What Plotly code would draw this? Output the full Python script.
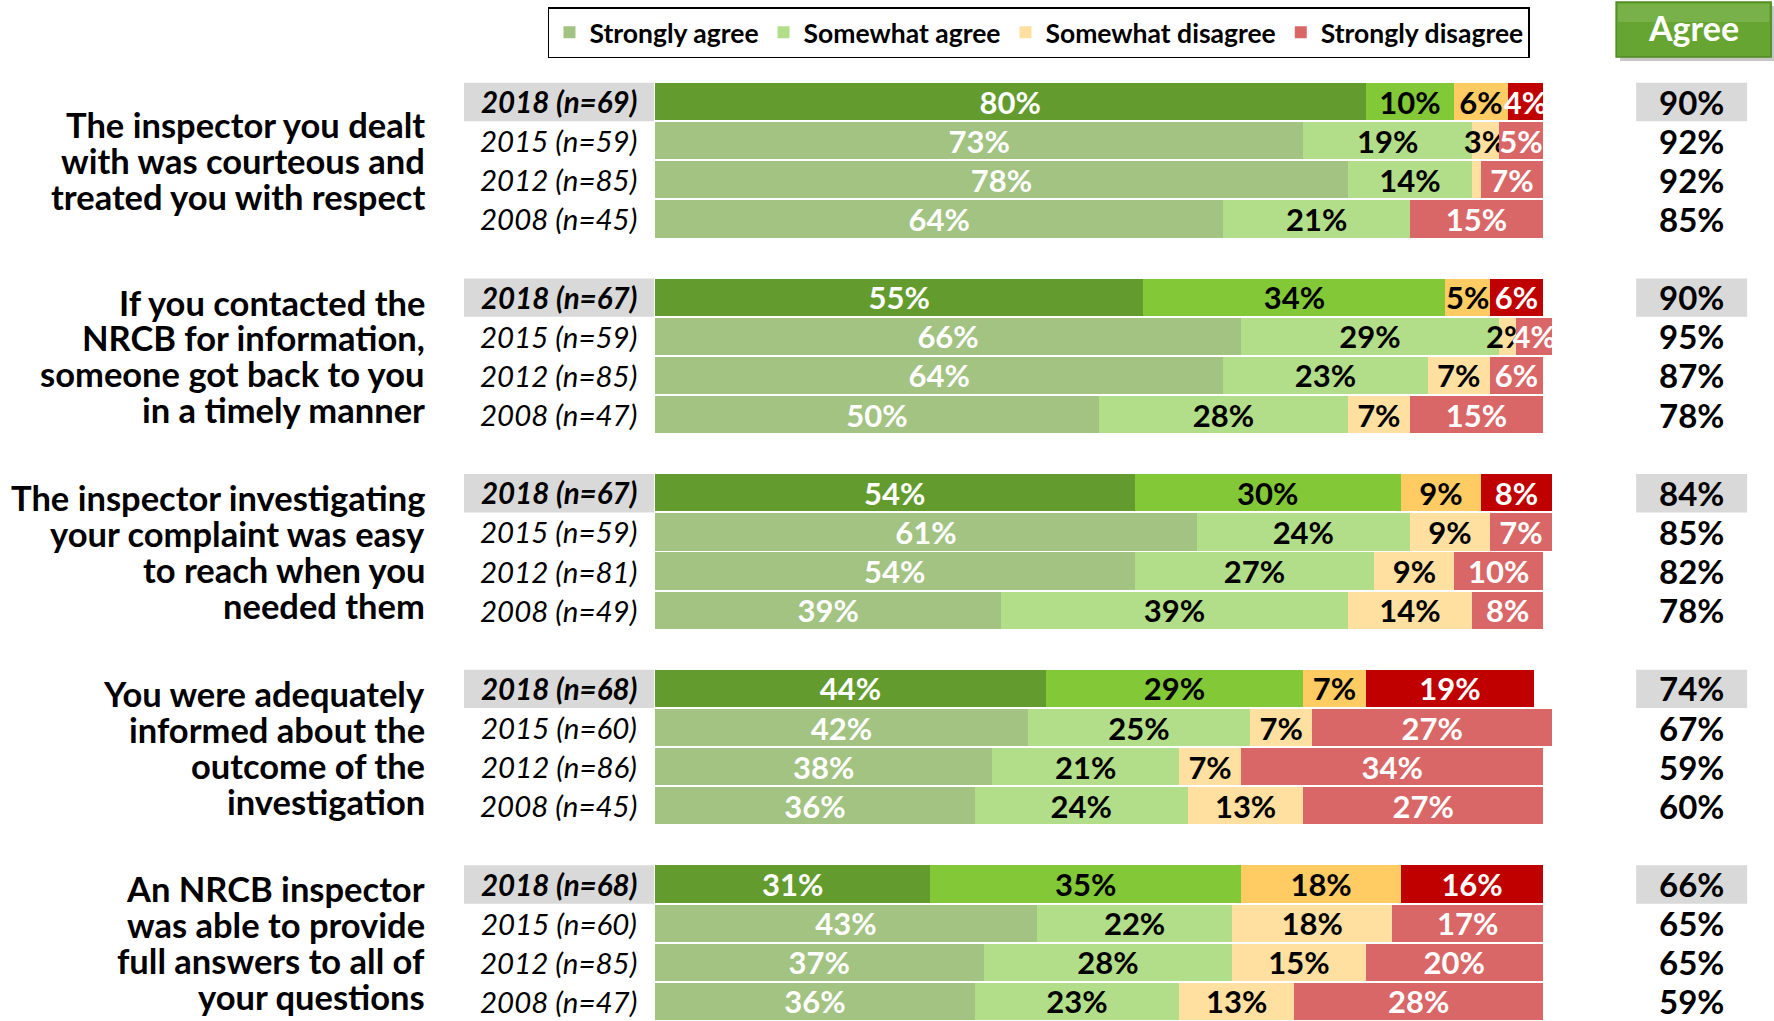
import plotly.graph_objects as go

# ---------------- data ----------------
questions = [
    ["The inspector you dealt", "with was courteous and", "treated you with respect"],
    ["If you contacted the", "NRCB for information,", "someone got back to you", "in a timely manner"],
    ["The inspector investigating", "your complaint was easy", "to reach when you", "needed them"],
    ["You were adequately", "informed about the", "outcome of the", "investigation"],
    ["An NRCB inspector", "was able to provide", "full answers to all of", "your questions"],
]
year_labels = [
    ["2018 (n=69)", "2015 (n=59)", "2012 (n=85)", "2008 (n=45)"],
    ["2018 (n=67)", "2015 (n=59)", "2012 (n=85)", "2008 (n=47)"],
    ["2018 (n=67)", "2015 (n=59)", "2012 (n=81)", "2008 (n=49)"],
    ["2018 (n=68)", "2015 (n=60)", "2012 (n=86)", "2008 (n=45)"],
    ["2018 (n=68)", "2015 (n=60)", "2012 (n=85)", "2008 (n=47)"],
]
strongly_agree = [
    [80, 73, 78, 64],
    [55, 66, 64, 50],
    [54, 61, 54, 39],
    [44, 42, 38, 36],
    [31, 43, 37, 36],
]
somewhat_agree = [
    [10, 19, 14, 21],
    [34, 29, 23, 28],
    [30, 24, 27, 39],
    [29, 25, 21, 24],
    [35, 22, 28, 23],
]
somewhat_disagree = [
    [6, 3, 1, 0],
    [5, 2, 7, 7],
    [9, 9, 9, 14],
    [7, 7, 7, 13],
    [18, 18, 15, 13],
]
strongly_disagree = [
    [4, 5, 7, 15],
    [6, 4, 6, 15],
    [8, 7, 10, 8],
    [19, 27, 34, 27],
    [16, 17, 20, 28],
]
agree_total = [
    [90, 92, 92, 85],
    [90, 95, 87, 78],
    [84, 85, 82, 78],
    [74, 67, 59, 60],
    [66, 65, 65, 59],
]
categories = ["Strongly agree", "Somewhat agree", "Somewhat disagree", "Strongly disagree"]

# ---------------- styles ----------------
colors_old = ["#A3C383", "#B3DE89", "#FFE0A0", "#D96767"]
colors_new = ["#639B2E", "#82C837", "#FFCC64", "#C00000"]
text_colors = ["white", "black", "black", "white"]
BAR_FONT = "Lato, Carlito, Calibri, sans-serif"
MAIN_FONT = "Lato, Carlito, Calibri, sans-serif"

series = [strongly_agree, somewhat_agree, somewhat_disagree, strongly_disagree]
GROUP_STEP = 5
n_groups = len(questions)

def pos(g, r):
    return g * GROUP_STEP + r

fig = go.Figure()

for k, cat in enumerate(categories):
    for is_new in (False, True):
        ys, xs, txt = [], [], []
        for g in range(n_groups):
            for r in range(4):
                if (r == 0) != is_new:
                    continue
                v = series[k][g][r]
                ys.append(pos(g, r))
                xs.append(v)
                txt.append(f"{v}%" if v >= 2 else "")
        fig.add_trace(go.Bar(
            y=ys, x=xs, orientation="h", name=cat,
            legendgroup=cat, showlegend=not is_new,
            marker=dict(color=(colors_new if is_new else colors_old)[k], line=dict(width=0)),
            width=0.95,
            text=txt, textposition="inside", insidetextanchor="middle",
            textangle=0, constraintext="none",
            insidetextfont=dict(family=BAR_FONT, size=31, color=text_colors[k], weight="bold"),
            cliponaxis=False, hoverinfo="skip",
        ))

annotations = []
shapes = []

FIG_W, FIG_H = 1774, 1021
X_MAX = 101
PLOT_L = 655
PLOT_W = 888 * X_MAX / 100
PLOT_T, PLOT_H = 82, 939

def px_x(px):
    return (px - PLOT_L) / PLOT_W

def px_y(py):
    return 1 + (PLOT_T - py) / PLOT_H

for g in range(n_groups):
    lines = questions[g]
    gc = pos(g, 1.5)
    n = len(lines)
    for i, line in enumerate(lines):
        annotations.append(dict(
            x=px_x(427), xref="paper", y=gc + (i - (n - 1) / 2) * 0.918, yref="y",
            text=line, showarrow=False, xanchor="right", yanchor="middle",
            font=dict(family=MAIN_FONT, size=34.5, color="black", weight="bold"),
        ))
    for r in range(4):
        y = pos(g, r)
        if r == 0:
            shapes.append(dict(type="rect", xref="paper", yref="y",
                               x0=px_x(464), x1=px_x(654), y0=y - 0.48, y1=y + 0.5,
                               fillcolor="#D9D9D9", line=dict(width=0), layer="below"))
            shapes.append(dict(type="rect", xref="paper", yref="y",
                               x0=px_x(1636), x1=px_x(1747), y0=y - 0.48, y1=y + 0.5,
                               fillcolor="#D9D9D9", line=dict(width=0), layer="below"))
        annotations.append(dict(
            x=px_x(559), xref="paper", y=y, yref="y", text=year_labels[g][r],
            showarrow=False, xanchor="center", yanchor="middle",
            font=dict(family=MAIN_FONT, size=29.5, color="black", style="italic",
                      weight="bold" if r == 0 else "normal"),
        ))
        annotations.append(dict(
            x=px_x(1691), xref="paper", y=y, yref="y", text=f"{agree_total[g][r]}%",
            showarrow=False, xanchor="center", yanchor="middle",
            font=dict(family=MAIN_FONT, size=33, color="black", weight="bold"),
        ))

# "Agree" header box
shapes.append(dict(type="rect", xref="paper", yref="paper",
                   x0=px_x(1620), x1=px_x(1774), y0=px_y(61), y1=px_y(6),
                   fillcolor="rgba(0,0,0,0.22)", line=dict(width=0)))
shapes.append(dict(type="rect", xref="paper", yref="paper",
                   x0=px_x(1616), x1=px_x(1771), y0=px_y(57), y1=px_y(2),
                   fillcolor="#66A532", line=dict(color="#4F8A22", width=1.5)))
shapes.append(dict(type="rect", xref="paper", yref="paper",
                   x0=px_x(1618), x1=px_x(1769), y0=px_y(22), y1=px_y(4),
                   fillcolor="rgba(255,255,255,0.12)", line=dict(width=0)))
annotations.append(dict(
    x=px_x(1693), xref="paper", y=px_y(27), yref="paper", text="Agree",
    showarrow=False, xanchor="center", yanchor="middle",
    font=dict(family=MAIN_FONT, size=34, color="white", weight="bold"),
))

fig.update_layout(
    width=FIG_W, height=FIG_H,
    margin=dict(l=PLOT_L, r=FIG_W - PLOT_L - PLOT_W,
                t=PLOT_T, b=FIG_H - PLOT_T - PLOT_H, pad=0),
    barmode="stack",
    plot_bgcolor="white", paper_bgcolor="white",
    xaxis=dict(range=[0, X_MAX], visible=False, showgrid=False, zeroline=False, fixedrange=True),
    yaxis=dict(range=[GROUP_STEP * (n_groups - 1) + 3.5, -0.5], visible=False,
               showgrid=False, zeroline=False, fixedrange=True),
    uniformtext=dict(minsize=31, mode="show"),
    showlegend=True,
    legend=dict(orientation="h", xref="paper", yref="paper",
                x=px_x(548), xanchor="left",
                y=px_y(7), yanchor="top",
                bordercolor="black", borderwidth=1.5, bgcolor="white",
                font=dict(family=MAIN_FONT, size=26.5, color="black", weight="bold"),
                traceorder="normal", itemclick=False, itemdoubleclick=False,
                tracegroupgap=0),
    shapes=shapes,
    annotations=annotations,
)

fig.write_html("out.html", config={"displayModeBar": False},
               post_script="document.body.style.margin='0';")
